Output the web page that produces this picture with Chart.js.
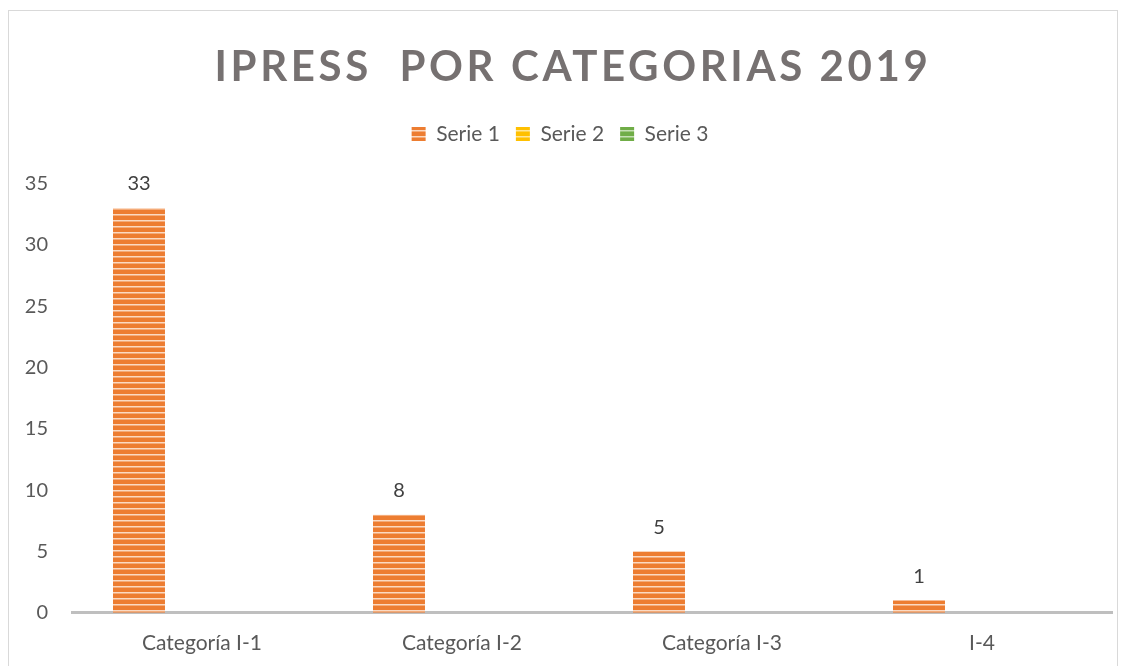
<!DOCTYPE html>
<html lang="es">
    <head>
        <meta charset="utf-8" />
        <title>IPRESS por categorias 2019</title>
        <script src="https://cdnjs.cloudflare.com/ajax/libs/Chart.js/4.4.0/chart.umd.js"></script>
        <style>
            html, body {
                margin: 0;
                padding: 0;
                background: #fff;
                overflow: hidden;
            }
            #wrap {
                position: relative;
                width: 1130px;
                height: 666px;
            }
            #frame {
                position: absolute;
                left: 8px;
                top: 10px;
                width: 1110px;
                height: 700px;
                border: 1px solid #d9d9d9;
                box-sizing: border-box;
            }
        </style>
    </head>
    <body>
        <div id="wrap">
            <div id="frame"></div>
            <canvas id="canvas" width="1130" height="666"></canvas>
        </div>
        <script>
            const title = 'IPRESS  POR CATEGORIAS 2019';
            const categories = ['Categoría I-1', 'Categoría I-2', 'Categoría I-3', 'I-4'];
            const serie1 = [33, 8, 5, 1];
            const serie2 = [0, 0, 0, 0];
            const serie3 = [0, 0, 0, 0];
            const seriesNames = ['Serie 1', 'Serie 2', 'Serie 3'];
            const yTicks = [0, 5, 10, 15, 20, 25, 30, 35];

            const font = 'Lato, "Open Sans", sans-serif';

            // horizontal stripes like the excel fill
            function stripes(base, light) {
                const c = document.createElement('canvas');
                c.width = 8;
                c.height = 6;
                const x = c.getContext('2d');
                x.fillStyle = base;
                x.fillRect(0, 0, 8, 6);
                x.fillStyle = light;
                x.fillRect(0, 4, 8, 1.5);
                return x.createPattern(c, 'repeat');
            }

            const fills = [
                stripes('#ed7d31', '#fbd9c1'),
                stripes('#ffc000', '#ffe699'),
                stripes('#70ad47', '#c5e0b4')
            ];

            const titlePlugin = {
                id: 'bigTitle',
                afterDraw(chart) {
                    const ctx = chart.ctx;
                    ctx.save();
                    ctx.font = 'bold 42px ' + font;
                    ctx.fillStyle = '#767171';
                    ctx.textAlign = 'center';
                    ctx.textBaseline = 'middle';
                    ctx.letterSpacing = '3.6px';
                    ctx.fillText(title, 573, 67);
                    ctx.restore();
                }
            };

            // extra room under the legend
            const legendGap = {
                id: 'legendGap',
                beforeInit(chart) {
                    const fit = chart.legend.fit;
                    chart.legend.fit = function () {
                        fit.bind(chart.legend)();
                        this.height += 29;
                    };
                }
            };

            const valueLabels = {
                id: 'valueLabels',
                afterDatasetsDraw(chart) {
                    const ctx = chart.ctx;
                    ctx.save();
                    ctx.font = '20px ' + font;
                    ctx.fillStyle = '#404040';
                    ctx.textAlign = 'center';
                    ctx.textBaseline = 'middle';
                    chart.getDatasetMeta(0).data.forEach((bar, i) => {
                        ctx.fillText(serie1[i], bar.x, bar.y - 24);
                    });
                    ctx.restore();
                }
            };

            const datasets = [serie1, serie2, serie3].map((d, i) => ({
                label: seriesNames[i],
                data: d,
                backgroundColor: fills[i],
                borderWidth: 0,
                categoryPercentage: 0.727,
                barPercentage: 0.825
            }));

            new Chart('canvas', {
                type: 'bar',
                data: { labels: categories, datasets: datasets },
                plugins: [titlePlugin, legendGap, valueLabels],
                options: {
                    responsive: false,
                    animation: false,
                    layout: {
                        padding: { top: 23, left: 8, right: 18, bottom: 0 }
                    },
                    plugins: {
                        title: {
                            display: true,
                            text: '',
                            padding: { top: 70, bottom: 0 }
                        },
                        legend: {
                            position: 'top',
                            labels: {
                                font: { family: font, size: 21 },
                                color: '#595959',
                                boxWidth: 14,
                                boxHeight: 14,
                                padding: 16
                            }
                        },
                        tooltip: { enabled: false }
                    },
                    scales: {
                        x: {
                            grid: { display: false },
                            border: { color: '#bfbfbf', width: 3 },
                            ticks: {
                                font: { family: font, size: 21 },
                                color: '#595959',
                                padding: 10
                            }
                        },
                        y: {
                            min: 0,
                            max: 35,
                            afterBuildTicks(axis) {
                                axis.ticks = yTicks.map(v => ({ value: v }));
                            },
                            afterFit(axis) {
                                axis.width = 64;
                            },
                            grid: { display: false },
                            border: { display: false },
                            ticks: {
                                font: { family: font, size: 20 },
                                color: '#595959',
                                padding: 16
                            }
                        }
                    }
                }
            });
        </script>
    </body>
</html>
